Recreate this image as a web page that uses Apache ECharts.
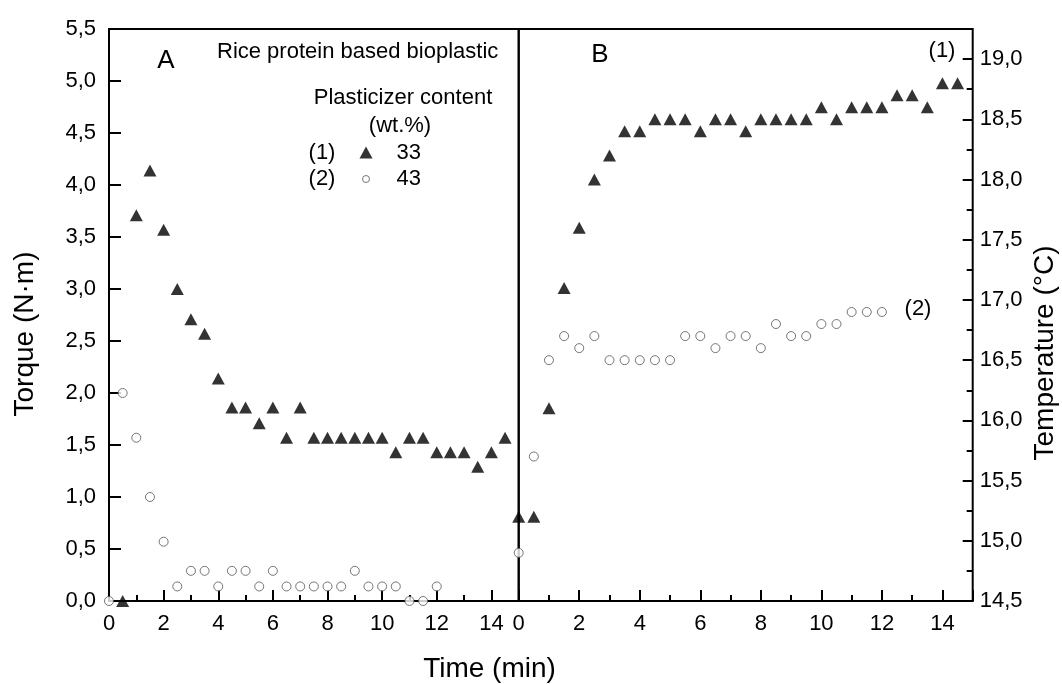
<!DOCTYPE html>
<html>
<head>
<meta charset="utf-8">
<script src="https://cdn.jsdelivr.net/npm/echarts@6/dist/echarts.min.js"></script>
<style>
html,body{margin:0;padding:0;background:#fff;}
#chart{width:1062px;height:684px;}
</style>
</head>
<body>
<div id="chart"></div>
<script>
// ---- Data ----
// Panel A: torque (N·m) vs time (min)
const timeA33 = [0.5,1,1.5,2,2.5,3,3.5,4,4.5,5,5.5,6,6.5,7,7.5,8,8.5,9,9.5,10,10.5,11,11.5,12,12.5,13,13.5,14,14.5];
const torque33 = [0.00,3.71,4.14,3.57,3.00,2.71,2.57,2.14,1.86,1.86,1.71,1.86,1.57,1.86,1.57,1.57,1.57,1.57,1.57,1.57,1.43,1.57,1.57,1.43,1.43,1.43,1.29,1.43,1.57];
const timeA43 = [0,0.5,1,1.5,2,2.5,3,3.5,4,4.5,5,5.5,6,6.5,7,7.5,8,8.5,9,9.5,10,10.5,11,11.5,12];
const torque43 = [0.00,2.00,1.57,1.00,0.57,0.14,0.29,0.29,0.14,0.29,0.29,0.14,0.29,0.14,0.14,0.14,0.14,0.14,0.29,0.14,0.14,0.14,0.00,0.00,0.14];
// Panel B: temperature (°C) vs time (min)
const timeB33 = [0,0.5,1,1.5,2,2.5,3,3.5,4,4.5,5,5.5,6,6.5,7,7.5,8,8.5,9,9.5,10,10.5,11,11.5,12,12.5,13,13.5,14,14.5];
const temp33 = [15.2,15.2,16.1,17.1,17.6,18.0,18.2,18.4,18.4,18.5,18.5,18.5,18.4,18.5,18.5,18.4,18.5,18.5,18.5,18.5,18.6,18.5,18.6,18.6,18.6,18.7,18.7,18.6,18.8,18.8];
const timeB43 = [0,0.5,1,1.5,2,2.5,3,3.5,4,4.5,5,5.5,6,6.5,7,7.5,8,8.5,9,9.5,10,10.5,11,11.5,12];
const temp43 = [14.9,15.7,16.5,16.7,16.6,16.7,16.5,16.5,16.5,16.5,16.5,16.7,16.7,16.6,16.7,16.7,16.6,16.8,16.7,16.7,16.8,16.8,16.9,16.9,16.9];
// Legend / labels
const seriesNames = ['33','43'];
const seriesTags = ['(1)','(2)'];
const torqueRange = [0, 5.5];
const tempRange = [14.5, 19.25];
const timeRange = [0, 15];

const zip = (xs, ys) => xs.map((x, i) => [x, ys[i]]);
const FONT = '"Liberation Sans", Arial, sans-serif';
const comma = v => v.toFixed(1).replace('.', ',');

const GA = {left: 109, top: 29, width: 409.7, height: 572};
const GB = {left: 518.7, top: 29, width: 454, height: 572};

const tickLabel = {color: '#000', fontSize: 22, fontFamily: FONT};
const noLine = {show: false, onZero: false};

const chart = echarts.init(document.getElementById('chart'), null, {renderer: 'canvas'});
chart.setOption({
  animation: false,
  backgroundColor: '#fff',
  textStyle: {fontFamily: FONT, color: '#000'},
  grid: [
    Object.assign({show: true, borderColor: '#000', borderWidth: 2, backgroundColor: 'transparent'}, GA),
    Object.assign({show: true, borderColor: '#000', borderWidth: 2, backgroundColor: 'transparent'}, GB),
    Object.assign({show: false}, GA),
    Object.assign({show: false}, GB)
  ],
  xAxis: [
    // minor ticks A
    {type: 'value', gridIndex: 0, position: 'bottom', min: timeRange[0], max: timeRange[1], interval: 1,
     axisLine: noLine, splitLine: {show: false},
     axisTick: {show: true, inside: true, length: 6, lineStyle: {color: '#000', width: 2}},
     axisLabel: {show: false}},
    // minor ticks B
    {type: 'value', gridIndex: 1, position: 'bottom', min: timeRange[0], max: timeRange[1], interval: 1,
     axisLine: noLine, splitLine: {show: false},
     axisTick: {show: true, inside: true, length: 6, lineStyle: {color: '#000', width: 2}},
     axisLabel: {show: false}},
    // major ticks + labels A
    {type: 'value', gridIndex: 2, position: 'bottom', min: timeRange[0], max: timeRange[1], interval: 2,
     axisLine: noLine, splitLine: {show: false},
     axisTick: {show: true, inside: true, length: 11, lineStyle: {color: '#000', width: 2}},
     axisLabel: Object.assign({margin: 12, formatter: v => (v < 15 ? String(v) : '')}, tickLabel)},
    // major ticks + labels B
    {type: 'value', gridIndex: 3, position: 'bottom', min: timeRange[0], max: timeRange[1], interval: 2,
     axisLine: noLine, splitLine: {show: false},
     axisTick: {show: true, inside: true, length: 11, lineStyle: {color: '#000', width: 2}},
     axisLabel: Object.assign({margin: 12, formatter: v => (v < 15 ? String(v) : '')}, tickLabel)}
  ],
  yAxis: [
    // Torque (left)
    {type: 'value', gridIndex: 0, position: 'left', min: torqueRange[0], max: torqueRange[1], interval: 0.5,
     axisLine: noLine, splitLine: {show: false},
     axisTick: {show: true, inside: true, length: 12, lineStyle: {color: '#000', width: 2}},
     axisLabel: Object.assign({margin: 13, formatter: comma}, tickLabel)},
    // Temperature minor ticks (right)
    {type: 'value', gridIndex: 1, position: 'right', min: tempRange[0], max: tempRange[1], interval: 0.25,
     axisLine: noLine, splitLine: {show: false},
     axisTick: {show: true, inside: true, length: 6, lineStyle: {color: '#000', width: 2}},
     axisLabel: {show: false}},
    {type: 'value', gridIndex: 2, show: false, min: 0, max: 1, axisLine: noLine},
    // Temperature major ticks + labels (right)
    {type: 'value', gridIndex: 3, position: 'right', min: tempRange[0], max: tempRange[1], interval: 0.5,
     axisLine: noLine, splitLine: {show: false},
     axisTick: {show: true, inside: true, length: 10, lineStyle: {color: '#000', width: 2}},
     axisLabel: Object.assign({margin: 7, formatter: v => (v <= 19 ? comma(v) : '')}, tickLabel)}
  ],
  legend: {
    show: true,
    orient: 'vertical',
    left: 359.5,
    top: 141.5,
    padding: 0,
    itemWidth: 13,
    itemHeight: 12,
    itemGap: 4.5,
    selectedMode: false,
    textStyle: {fontSize: 22, fontFamily: FONT, color: '#000', lineHeight: 22, padding: [0, 0, 0, 19]},
    data: [
      {name: seriesNames[0], icon: 'triangle', itemStyle: {color: '#000'}},
      {name: seriesNames[1], icon: 'path://M0,0M12,12M9.5,6A3.5,3.5,0,1,1,2.5,6A3.5,3.5,0,1,1,9.5,6Z',
       itemStyle: {color: '#fff', borderColor: '#555', borderWidth: 1}}
    ]
  },
  series: [
    {name: seriesNames[0], type: 'scatter', xAxisIndex: 0, yAxisIndex: 0, data: zip(timeA33, torque33),
     symbol: 'triangle', symbolSize: [13, 12], itemStyle: {color: '#000'}},
    {name: seriesNames[1], type: 'scatter', xAxisIndex: 0, yAxisIndex: 0, data: zip(timeA43, torque43),
     symbol: 'circle', symbolSize: 9, itemStyle: {color: '#fff', borderColor: '#555', borderWidth: 1}},
    {name: seriesNames[0], type: 'scatter', xAxisIndex: 1, yAxisIndex: 1, data: zip(timeB33, temp33),
     symbol: 'triangle', symbolSize: [13, 12], itemStyle: {color: '#000'}},
    {name: seriesNames[1], type: 'scatter', xAxisIndex: 1, yAxisIndex: 1, data: zip(timeB43, temp43),
     symbol: 'circle', symbolSize: 9, itemStyle: {color: '#fff', borderColor: '#555', borderWidth: 1}}
  ],
  graphic: [
    {type: 'text', x: 166, y: 61, style: {text: 'A', font: '26px ' + FONT, fill: '#000', textAlign: 'center', textVerticalAlign: 'middle'}},
    {type: 'text', x: 600, y: 55, style: {text: 'B', font: '26px ' + FONT, fill: '#000', textAlign: 'center', textVerticalAlign: 'middle'}},
    {type: 'text', x: 217, y: 52, style: {text: 'Rice protein based bioplastic', font: '22px ' + FONT, fill: '#000', textAlign: 'left', textVerticalAlign: 'middle'}},
    {type: 'text', x: 403, y: 98, style: {text: 'Plasticizer content', font: '22px ' + FONT, fill: '#000', textAlign: 'center', textVerticalAlign: 'middle'}},
    {type: 'text', x: 400, y: 126, style: {text: '(wt.%)', font: '22px ' + FONT, fill: '#000', textAlign: 'center', textVerticalAlign: 'middle'}},
    {type: 'text', x: 322, y: 153, style: {text: seriesTags[0], font: '22px ' + FONT, fill: '#000', textAlign: 'center', textVerticalAlign: 'middle'}},
    {type: 'text', x: 322, y: 179, style: {text: seriesTags[1], font: '22px ' + FONT, fill: '#000', textAlign: 'center', textVerticalAlign: 'middle'}},
    {type: 'text', x: 942, y: 51, style: {text: seriesTags[0], font: '22px ' + FONT, fill: '#000', textAlign: 'center', textVerticalAlign: 'middle'}},
    {type: 'text', x: 918, y: 309, style: {text: seriesTags[1], font: '22px ' + FONT, fill: '#000', textAlign: 'center', textVerticalAlign: 'middle'}},
    {type: 'text', x: 25, y: 334, rotation: Math.PI / 2, style: {text: 'Torque (N·m)', font: '28px ' + FONT, fill: '#000', textAlign: 'center', textVerticalAlign: 'middle'}},
    {type: 'text', x: 1045, y: 353, rotation: Math.PI / 2, style: {text: 'Temperature (°C)', font: '28px ' + FONT, fill: '#000', textAlign: 'center', textVerticalAlign: 'middle'}},
    {type: 'text', x: 489.5, y: 669, style: {text: 'Time (min)', font: '28px ' + FONT, fill: '#000', textAlign: 'center', textVerticalAlign: 'middle'}}
  ]
});
</script>
</body>
</html>
